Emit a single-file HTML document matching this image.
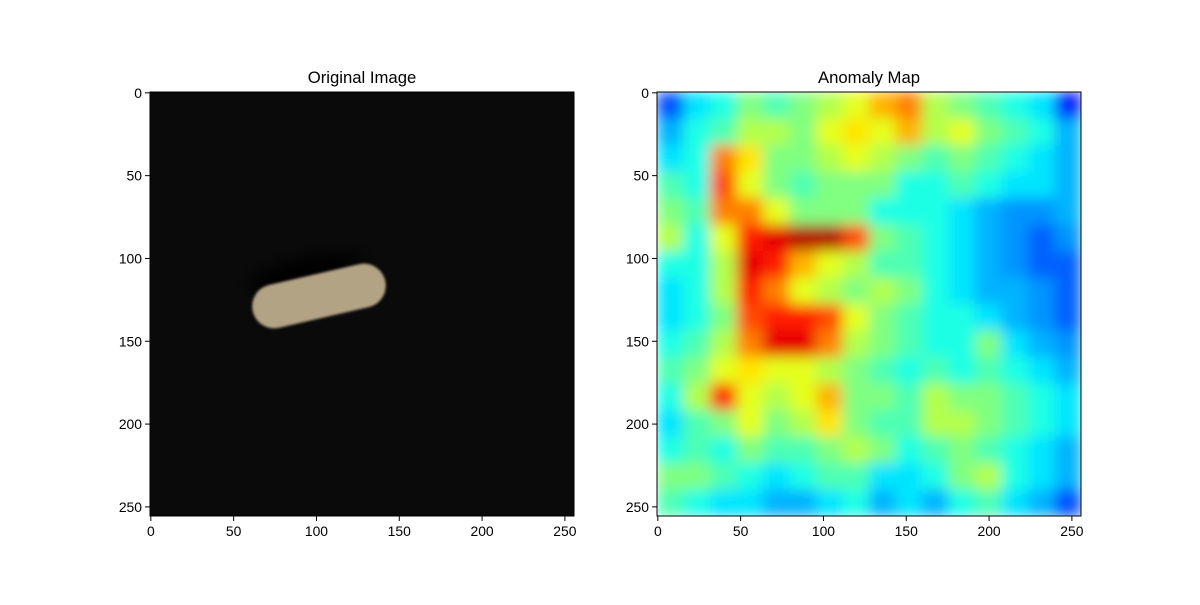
<!DOCTYPE html>
<html><head><meta charset="utf-8"><style>
body{margin:0;background:#fff}
svg text{font-family:"Liberation Sans","DejaVu Sans",sans-serif;fill:#000}
</style></head><body>
<svg id="fig" width="1200" height="600" xmlns="http://www.w3.org/2000/svg">
<defs>
<filter id="blur" x="0" y="0" width="1" height="1" filterUnits="objectBoundingBox"><feGaussianBlur stdDeviation="7" edgeMode="duplicate"/></filter>
<filter id="pblur" x="-20%" y="-50%" width="140%" height="200%"><feGaussianBlur stdDeviation="1.2"/></filter>
<filter id="sblur" x="-50%" y="-100%" width="200%" height="300%"><feGaussianBlur stdDeviation="8"/></filter>
<clipPath id="rclip"><rect x="657" y="92" width="424" height="424"/></clipPath>
<clipPath id="lclip"><rect x="150" y="92" width="424" height="424"/></clipPath>
</defs>
<g>
<text x="362" y="83" font-size="16.7" text-anchor="middle">Original Image</text>
<g clip-path="url(#lclip)">
<rect x="150" y="92" width="424" height="424" fill="#0a0a0a"/>
<ellipse cx="305" cy="272" rx="60" ry="14" fill="#000" filter="url(#sblur)" transform="rotate(-13 305 272)"/>
<rect x="251" y="274" width="136" height="44" rx="22" fill="#b3a385" filter="url(#pblur)" transform="rotate(-13 319 296)"/>
</g>
<rect x="150" y="92" width="424" height="424" fill="none" stroke="#000" stroke-width="1"/>
<g id="lticks"></g>
</g>
<g>
<text x="869" y="83" font-size="16.7" text-anchor="middle">Anomaly Map</text>
<g clip-path="url(#rclip)"><g id="heat" filter="url(#blur)"></g></g>
<rect x="657" y="92" width="424" height="424" fill="none" stroke="#000" stroke-width="1"/>
<g id="rticks"></g>
</g>
</svg>
<script>
const tickValues=[0,50,100,150,200,250];
const anomaly=[
[0.2,0.35,0.4,0.5,0.45,0.5,0.55,0.6,0.7,0.75,0.55,0.5,0.45,0.4,0.35,0.15],
[0.3,0.4,0.45,0.55,0.55,0.5,0.6,0.65,0.6,0.7,0.55,0.6,0.5,0.45,0.4,0.3],
[0.35,0.4,0.75,0.65,0.5,0.5,0.55,0.6,0.55,0.5,0.45,0.5,0.45,0.4,0.35,0.3],
[0.45,0.4,0.8,0.6,0.5,0.45,0.5,0.5,0.5,0.4,0.4,0.45,0.4,0.35,0.35,0.3],
[0.5,0.45,0.75,0.75,0.6,0.5,0.5,0.5,0.4,0.4,0.4,0.35,0.3,0.27,0.27,0.3],
[0.55,0.4,0.6,0.85,0.9,0.95,0.95,0.8,0.5,0.45,0.4,0.35,0.3,0.27,0.22,0.27],
[0.4,0.4,0.55,0.9,0.85,0.7,0.6,0.55,0.45,0.45,0.4,0.35,0.3,0.27,0.22,0.22],
[0.35,0.4,0.55,0.85,0.75,0.6,0.55,0.5,0.55,0.5,0.4,0.35,0.3,0.3,0.27,0.22],
[0.35,0.4,0.5,0.8,0.85,0.85,0.8,0.6,0.5,0.45,0.4,0.4,0.35,0.3,0.27,0.22],
[0.4,0.45,0.55,0.75,0.9,0.9,0.75,0.55,0.5,0.45,0.4,0.4,0.5,0.35,0.3,0.27],
[0.45,0.5,0.6,0.65,0.6,0.6,0.55,0.5,0.45,0.4,0.45,0.4,0.45,0.4,0.35,0.3],
[0.4,0.55,0.85,0.6,0.55,0.6,0.7,0.5,0.5,0.45,0.55,0.5,0.5,0.45,0.4,0.35],
[0.35,0.45,0.5,0.6,0.5,0.55,0.65,0.5,0.45,0.45,0.55,0.55,0.5,0.45,0.4,0.35],
[0.4,0.45,0.4,0.5,0.45,0.45,0.5,0.55,0.5,0.4,0.45,0.5,0.45,0.4,0.35,0.3],
[0.5,0.5,0.45,0.4,0.35,0.4,0.45,0.45,0.35,0.35,0.4,0.5,0.55,0.4,0.35,0.3],
[0.45,0.4,0.35,0.35,0.3,0.3,0.35,0.4,0.3,0.35,0.3,0.4,0.45,0.35,0.3,0.2]];
const NS="http://www.w3.org/2000/svg";
const S=424/256, Y0=92;
function jet(v){
  const c=x=>Math.max(0,Math.min(1,x));
  const r=c(1.5-Math.abs(4*v-3)), g=c(1.5-Math.abs(4*v-2)), b=c(1.5-Math.abs(4*v-1));
  return `rgb(${Math.round(r*255)},${Math.round(g*255)},${Math.round(b*255)})`;
}
const heat=document.getElementById('heat');
const n=anomaly.length, cell=256/n;
anomaly.forEach((row,i)=>row.forEach((v,j)=>{
  const r=document.createElementNS(NS,'rect');
  
  
  r.setAttribute('x',657+j*cell*S);r.setAttribute('y',Y0+i*cell*S);
  r.setAttribute('width',cell*S+0.5);r.setAttribute('height',cell*S+0.5);
  r.setAttribute('fill',jet(v));heat.appendChild(r);
}));
function ticks(gid,X0){
  const g=document.getElementById(gid);
  tickValues.forEach(t=>{
    const x=X0+(t+0.5)*S, y=Y0+(t+0.5)*S;
    const l1=document.createElementNS(NS,'line');
    
    
    l1.setAttribute('x1',x);l1.setAttribute('x2',x);l1.setAttribute('y1',516);l1.setAttribute('y2',521);l1.setAttribute('stroke','#000');g.appendChild(l1);
    const t1=document.createElementNS(NS,'text');
    
    
    t1.setAttribute('x',x);t1.setAttribute('y',536);t1.setAttribute('font-size','13.9');t1.setAttribute('text-anchor','middle');t1.textContent=t;g.appendChild(t1);
    const l2=document.createElementNS(NS,'line');
    
    
    l2.setAttribute('x1',X0-5);l2.setAttribute('x2',X0);l2.setAttribute('y1',y);l2.setAttribute('y2',y);l2.setAttribute('stroke','#000');g.appendChild(l2);
    const t2=document.createElementNS(NS,'text');
    
    
    t2.setAttribute('x',X0-8);t2.setAttribute('y',y+5);t2.setAttribute('font-size','13.9');t2.setAttribute('text-anchor','end');t2.textContent=t;g.appendChild(t2);
  });
}
ticks('lticks',150);ticks('rticks',657);
</script>
</body></html>
